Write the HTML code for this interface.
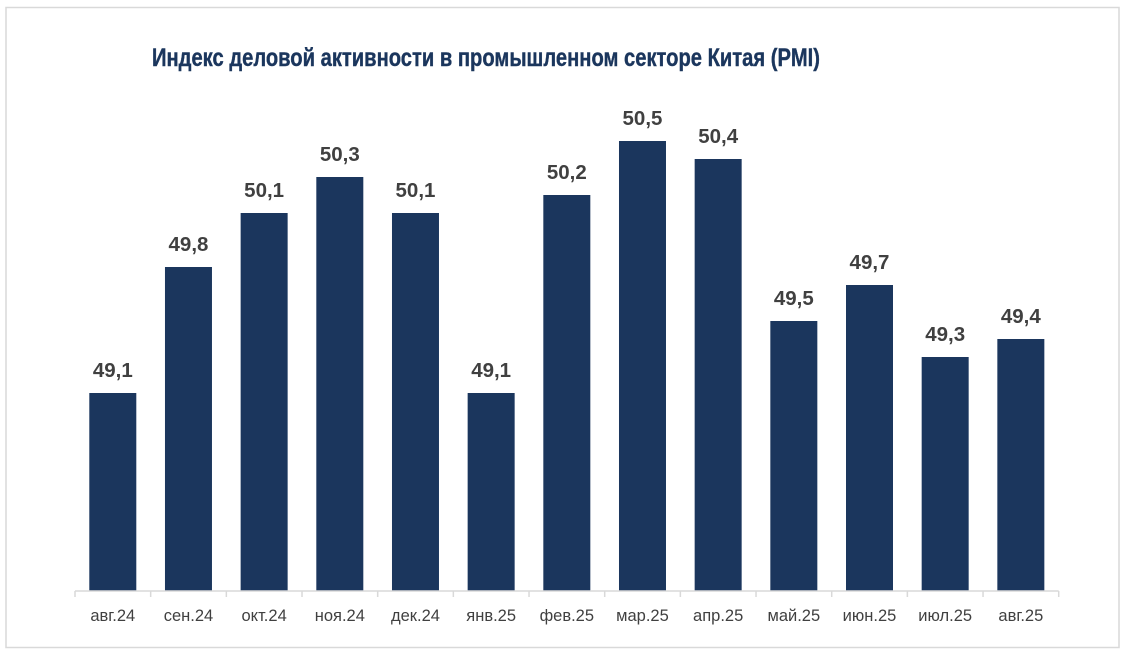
<!DOCTYPE html>
<html><head><meta charset="utf-8"><style>
html,body{margin:0;padding:0;background:#fff;}
</style></head><body>
<svg width="1127" height="656" xmlns="http://www.w3.org/2000/svg">
<rect x="6" y="7.5" width="1113" height="640" fill="#fff" stroke="#d9d9d9" stroke-width="1.5"/>
<text x="152" y="66" font-family="'Liberation Sans Narrow','Liberation Sans',sans-serif" font-weight="bold" font-size="25" fill="#1b365d" stroke="#1b365d" stroke-width="0.4" textLength="668" lengthAdjust="spacingAndGlyphs">Индекс деловой активности в промышленном секторе Китая (PMI)</text>
<g id="bars" fill="#1b365d"></g>
<g id="lbl" font-family="'Liberation Sans',sans-serif" font-weight="bold" font-size="20.5" fill="#404040" text-anchor="middle"></g>
<g id="cat" font-family="'Liberation Sans',sans-serif" font-size="16.5" fill="#404040" text-anchor="middle"></g>
<g id="ax" stroke="#d9d9d9" stroke-width="1.5"></g>
</svg>
<script>
const v=[49.1,49.8,50.1,50.3,50.1,49.1,50.2,50.5,50.4,49.5,49.7,49.3,49.4];
const c=["авг.24","сен.24","окт.24","ноя.24","дек.24","янв.25","фев.25","мар.25","апр.25","май.25","июн.25","июл.25","авг.25"];
const ns="http://www.w3.org/2000/svg";
function el(p,t,a,tx){const e=document.createElementNS(ns,t);for(const k in a)e.setAttribute(k,a[k]);if(tx)e.textContent=tx;document.getElementById(p).appendChild(e);}
const x0=75,w=75.67,base=591;
v.forEach((d,i)=>{const h=(d-48)*180;const bx=x0+i*w+14.3;const top=base-h;
el("bars","rect",{x:bx,y:top,width:47,height:h});
el("lbl","text",{x:bx+23.5,y:top-16},d.toFixed(1).replace(".",","));
el("cat","text",{x:bx+23.5,y:621},c[i]);});
el("ax","line",{x1:x0,y1:base,x2:x0+13*w,y2:base});
for(let i=0;i<=13;i++){const x=x0+i*w;el("ax","line",{x1:x,y1:base,x2:x,y2:base+6});}
</script>
</body></html>
